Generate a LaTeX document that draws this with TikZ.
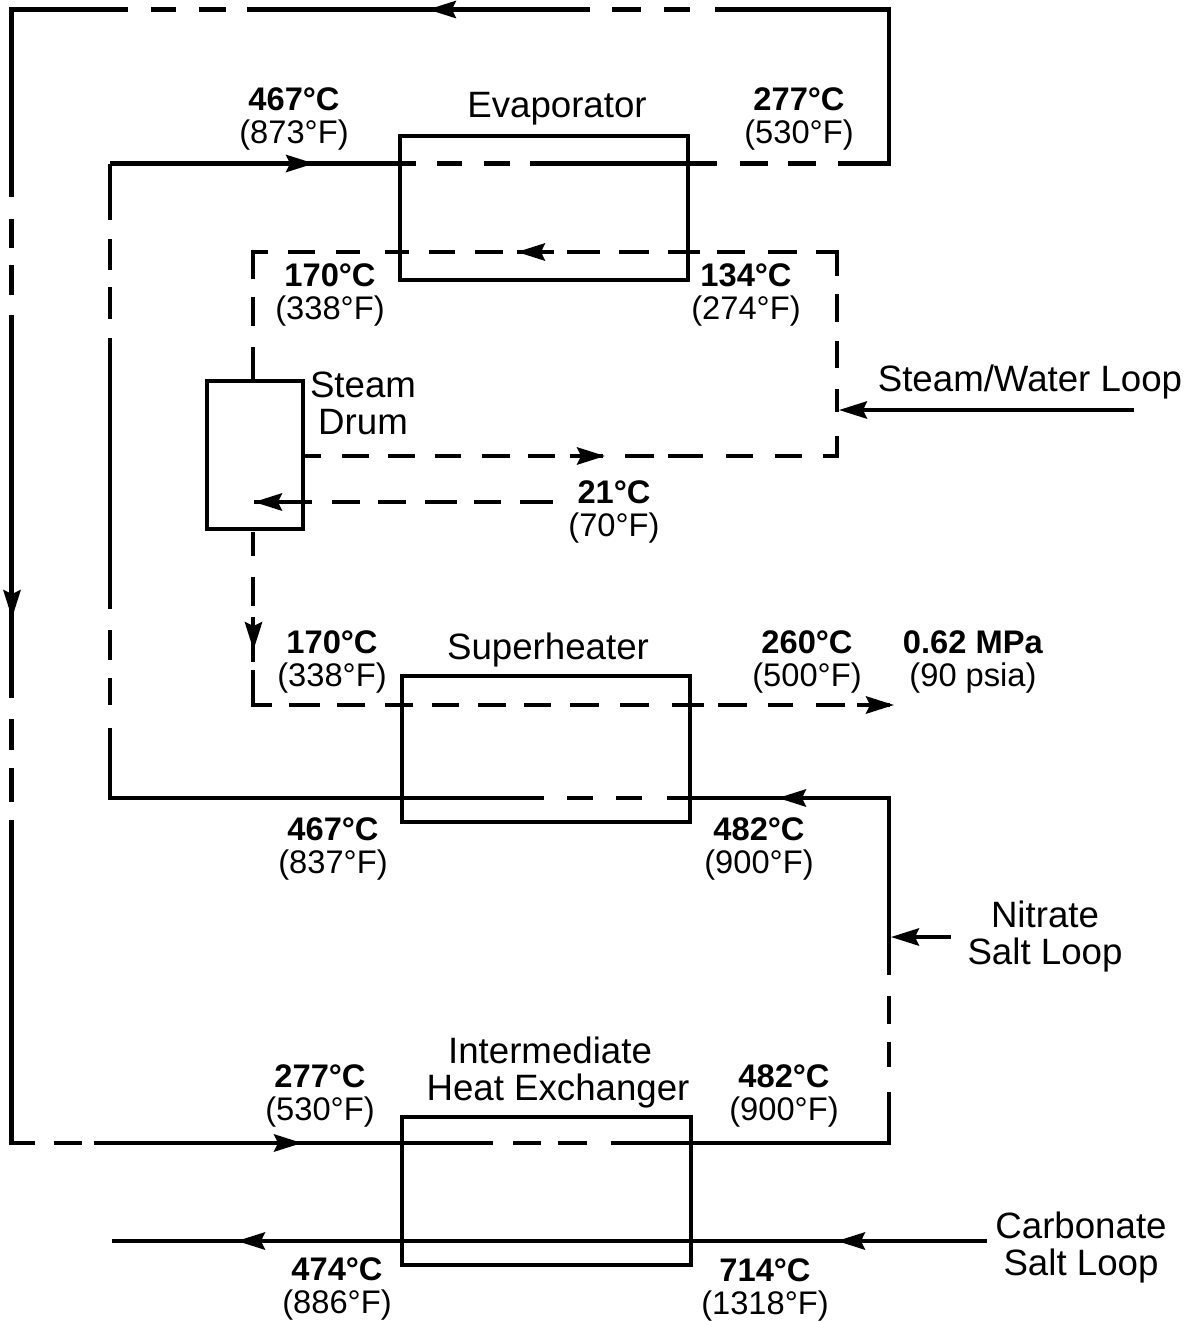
\documentclass[tikz,border=0pt]{standalone}
\usepackage{fontspec}
\setmainfont{Liberation Sans}
\usetikzlibrary{arrows.meta}
\newlength\px
\setlength\px{0.75pt}
\tikzset{
  pipe/.style={draw=black,line width=4.2\px,line cap=butt,line join=miter},
  unitbox/.style={draw=black,line width=4\px,fill=none,inner sep=0pt,outer sep=0pt},
  tip/.style={draw=black,line width=3.6\px,-{Stealth[length=21pt,width=13pt,inset=3pt]}},
  name label/.style={inner sep=0pt,align=center,font=\fontsize{27.5}{27.75}\selectfont,anchor=center},
  temp label/.style={inner sep=0pt,align=center,font=\fontsize{24.5}{24.75}\selectfont,anchor=center},
  outerdash/.style={dash pattern=on 306\px off 21\px on 25\px off 22\px on 26\px off 20\px on 187\px off 23\px on 28\px off 20\px on 28\px off 22\px on 379.5\px off 25\px on 26\px off 23\px on 29\px off 22\px on 343\px off 21\px on 27\px off 23\px on 25\px off 23\px on 303.5\px off 22\px on 29\px off 17\px on 30\px off 20\px on 383\px off 21\px on 31\px off 18\px on 34\px off 18\px on 346\px off 19\px on 28\px off 12\px on 399\px off 20\px on 28\px off 17\px on 29\px off 24\px on 330\px off 25\px on 25\px off 18\px on 28\px off 21\px on 399\px off 25\px on 26\px off 23\px on 26\px off 23\px on 504\px off 23\px on 27\px off 18\px on 30\px off 21\px on 271\px off 19\px on 32\px off 17\px on 31\px off 19\px on 60\px off 0\px},
  steamdash/.style={dash pattern=on 34\px off 21\px on 29\px off 18\px on 42\px off 20\px on 27\px off 21\px on 24\px off 25\px on 24\px off 20\px on 26\px off 20\px on 28\px off 14\px on 37\px off 13\px on 33\px off 19\px on 30\px off 19\px on 32\px off 17\px on 28\px off 23\px on 29\px off 19\px on 45\px off 18\px on 28\px off 19\px on 27\px off 21\px on 23\px off 24\px on 34\px off 21\px on 27\px off 22\px on 27\px off 23\px on 35\px off 14\px on 29\px off 22\px on 33\px off 15\px on 27\px off 18\px on 28\px off 21\px on 26\px off 20\px on 27\px off 19\px on 27\px off 21\px on 19\px off 10\px},
  feeddash/.style={dash pattern=on 33\px off 19\px on 27\px off 17\px on 32\px off 19\px on 28\px off 18\px on 28\px off 20\px on 58\px off 10\px},
  superdash/.style={dash pattern=on 24\px off 21\px on 29\px off 11\px on 45\px off 8\px on 54\px off 17\px on 31\px off 17\px on 28\px off 20\px on 28\px off 19\px on 27\px off 19\px on 28\px off 18\px on 27\px off 19\px on 29\px off 21\px on 29\px off 23\px on 32\px off 14\px on 29\px off 21\px on 25\px off 23\px on 29\px off 12\px on 37\px off 10\px},
}
\begin{document}
\begin{tikzpicture}[x=0.75pt,y=-0.75pt]
\useasboundingbox (0,0) rectangle (1199,1321);
% equipment
\node[unitbox,minimum width=288\px,minimum height=144\px] (evap) at (544,207.5) {};
\node[unitbox,minimum width=96\px,minimum height=148\px] (drum) at (254.5,455) {};
\node[unitbox,minimum width=288\px,minimum height=146\px] (super) at (546,749) {};
\node[unitbox,minimum width=289\px,minimum height=148\px] (ihx) at (546.5,1191) {};
% outer nitrate loop
\coordinate (a1) at (110,163.5);
\coordinate (a2) at (889,163.5);
\coordinate (a3) at (889,9.5);
\coordinate (a4) at (11.5,9.5);
\coordinate (a5) at (11.5,1143);
\coordinate (a6) at (889,1143);
\coordinate (a7) at (889,798);
\coordinate (a8) at (110,798);
\draw[pipe,outerdash] (a1) -- (a2) -- (a3) -- (a4) -- (a5) -- (a6) -- (a7) -- (a8) -- cycle;
% steam loop
\coordinate (s1) at (253,381);
\coordinate (s2) at (253,252);
\coordinate (s3) at (837,252);
\coordinate (s4) at (837,456);
\coordinate (s5) at (302,456);
\draw[pipe,steamdash] (s1) -- (s2) -- (s3) -- (s4) -- (s5);
\coordinate (f1) at (553,502);
\coordinate (f2) at (254,502);
\draw[pipe,feeddash] (f1) -- (f2);
\coordinate (d1) at (253,532);
\coordinate (d2) at (253,705);
\coordinate (d3) at (890,705);
\draw[pipe,superdash] (d1) -- (d2) -- (d3);
% carbonate
\coordinate (c1) at (987,1241);
\coordinate (c2) at (112,1241);
\draw[pipe] (c1) -- (c2);
% inlet leaders
\coordinate (w1) at (1134,410);
\coordinate (w2) at (839,410);
\draw[tip] (w1) -- (w2);
\coordinate (n1) at (951,937);
\coordinate (n2) at (891,937);
\draw[tip] (n1) -- (n2);
% flow arrowheads
\foreach \nm/\bx/\by/\tx/\ty in {
 h1/458/9.5/428/9.5, h2/284/163.5/314/163.5, h3/12/588/12/618, h4/272/1143/302/1143,
 h5/808/798/778/798, h6/547/252/517/252, h7/575/456/605/456, h8/284/502/254/502,
 h9/253.5/620/253.5/650, h10/864/705/894/705, h11/867/1241/837/1241, h12/267/1241/237/1241}{
  \coordinate (\nm b) at (\bx,\by);
  \coordinate (\nm t) at (\tx,\ty);
  \draw[tip] (\nm b) -- (\nm t);
}
% names
\node[name label] (tEvap) at (557,109) {Evaporator};
\node[name label] (tDrum) at (363,403) {Steam\\Drum};
\node[name label] (tSuper) at (548,650) {Superheater};
\node[name label] (tIhx) at (558,1073) {Intermediate\kern16\px\null\\Heat Exchanger};
\node[name label] (tWater) at (1030,382) {Steam/Water Loop};
\node[name label] (tNitrate) at (1045,937) {Nitrate\\Salt Loop};
\node[name label] (tCarb) at (1081,1248) {Carbonate\\Salt Loop};
% temperatures
\foreach \nm/\x/\y/\c/\f in {
 l1/294/119/467/873, l2/799/119/277/530, l3/330/295/170/338, l4/746/295/134/274,
 l5/614/512/21/70, l6/332/662/170/338, l7/807/662/260/500, l8/333/849/467/837,
 l9/759/849/482/900, l10/320/1096/277/530, l11/784/1096/482/900, l12/337/1289/474/886,
 l13/765/1290/714/1318}{
  \node[temp label] (\nm) at (\x,\y) {\textbf{\c°C}\\(\f°F)};
}
\node[temp label] (lp) at (973,662) {\textbf{0.62 MPa}\\(90 psia)};
\end{tikzpicture}
\end{document}
